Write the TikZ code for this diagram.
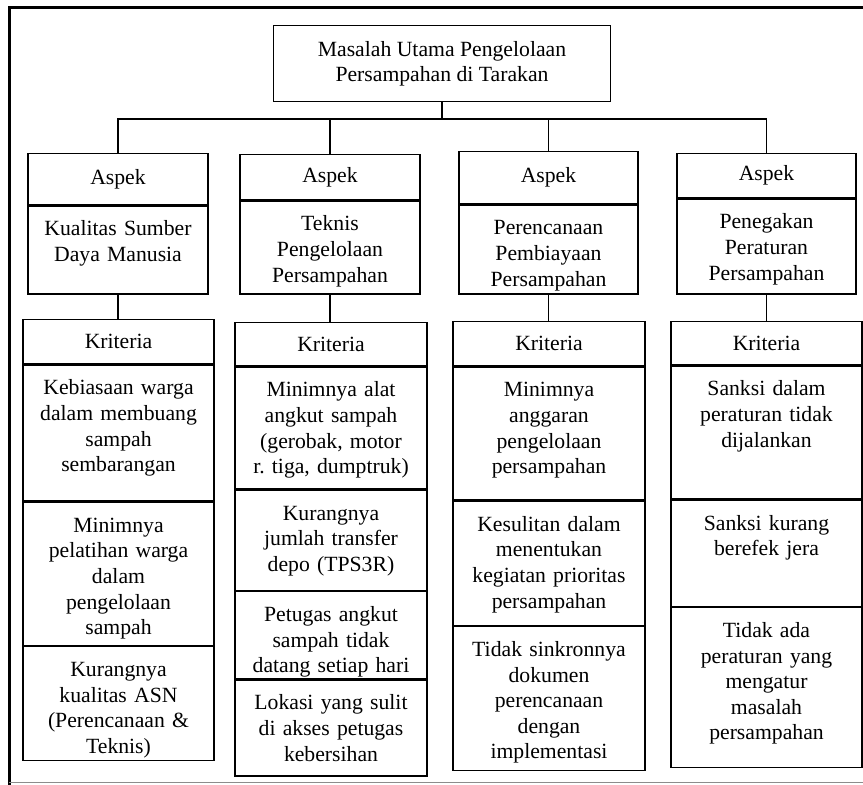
\documentclass[tikz,border=0pt]{standalone}
\usepackage{fontspec}
\setmainfont{Liberation Serif}
\usetikzlibrary{positioning}
\frenchspacing

\begin{document}
\begin{tikzpicture}[
    x=1pt, y=-1pt,
    line width=1.3pt,
    txt/.style={font=\fontsize{21.7}{25.6}\selectfont, align=center},
    head/.style 2 args={txt, draw, inner sep=0pt, minimum width=#1, minimum height=#2},
    cell/.style 2 args={txt, draw, inner xsep=0pt, inner ysep=0pt, text width=#1,
                        text height=30pt, text depth={#2-30pt}}
]
    \useasboundingbox (0,0) rectangle (863,785);
    \draw[line width=3pt] (863,7) -- (9,7) -- (9,785);
    \draw[line width=1pt, black!45] (9,782) -- (863,782);

    \node[head={337pt}{76pt}, anchor=north] (top) at (442,25) {Masalah Utama Pengelolaan\\Persampahan di Tarakan};

    \node[head={180pt}{51pt}, anchor=north] (a1) at (118,153) {Aspek};
    \node[cell={180pt}{88pt}, below=0pt of a1] (s1) {Kualitas Sumber\\Daya Manusia};
    \node[head={180pt}{45pt}, anchor=north] (a2) at (330,154) {Aspek};
    \node[cell={180pt}{93pt}, below=0pt of a2] (s2) {Teknis\\Pengelolaan\\Persampahan};
    \node[head={179pt}{52pt}, anchor=north] (a3) at (548.5,151) {Aspek};
    \node[cell={179pt}{89pt}, below=0pt of a3] (s3) {Perencanaan\\Pembiayaan\\Persampahan};
    \node[head={179pt}{44pt}, anchor=north] (a4) at (766.5,153) {Aspek};
    \node[cell={179pt}{95pt}, below=0pt of a4] (s4) {Penegakan\\Peraturan\\Persampahan};

    \node[head={191pt}{44pt}, anchor=north] (k1) at (118.5,319) {Kriteria};
    \node[cell={191pt}{136pt}, below=0pt of k1] (k1a) {Kebiasaan warga\\dalam membuang\\sampah\\sembarangan};
    \node[cell={191pt}{143pt}, below=0pt of k1a] (k1b) {Minimnya\\pelatihan warga\\dalam\\pengelolaan\\sampah};
    \node[cell={191pt}{114pt}, below=0pt of k1b] (k1c) {Kurangnya\\kualitas ASN\\(Perencanaan \&\\Teknis)};

    \node[head={192pt}{43pt}, anchor=north] (k2) at (331,322) {Kriteria};
    \node[cell={192pt}{122pt}, below=0pt of k2] (k2a) {Minimnya alat\\angkut sampah\\(gerobak, motor\\r. tiga, dumptruk)};
    \node[cell={192pt}{100pt}, below=0pt of k2a] (k2b) {Kurangnya\\jumlah transfer\\depo (TPS3R)};
    \node[cell={192pt}{87pt}, below=0pt of k2b] (k2c) {Petugas angkut\\sampah tidak\\datang setiap hari};
    \node[cell={192pt}{96pt}, below=0pt of k2c] (k2d) {Lokasi yang sulit\\di akses petugas\\kebersihan};

    \node[head={192pt}{44pt}, anchor=north] (k3) at (549,321) {Kriteria};
    \node[cell={192pt}{133pt}, below=0pt of k3] (k3a) {Minimnya\\anggaran\\pengelolaan\\persampahan};
    \node[cell={192pt}{124pt}, below=0pt of k3a] (k3b) {Kesulitan dalam\\menentukan\\kegiatan prioritas\\persampahan};
    \node[cell={192pt}{144pt}, below=0pt of k3b] (k3c) {Tidak sinkronnya\\dokumen\\perencanaan\\dengan\\implementasi};

    \node[head={191pt}{43pt}, anchor=north] (k4) at (766.5,321) {Kriteria};
    \node[cell={191pt}{133pt}, below=0pt of k4] (k4a) {Sanksi dalam\\peraturan tidak\\dijalankan};
    \node[cell={191pt}{106pt}, below=0pt of k4a] (k4b) {Sanksi kurang\\berefek jera};
    \node[cell={191pt}{160pt}, below=0pt of k4b] (k4c) {Tidak ada\\peraturan yang\\mengatur\\masalah\\persampahan};

    \coordinate (bus) at (442,119);
    \draw (top.south) -- (bus);
    \draw (a1.north) -- (a1.north |- bus) -- (a4.north |- bus) -- (a4.north);
    \draw (a2.north) -- (a2.north |- bus);
    \draw (a3.north) -- (a3.north |- bus);

    \draw (s1.south) -- (s1.south |- k1.north);
    \draw (s2.south) -- (s2.south |- k2.north);
    \draw (s3.south) -- (s3.south |- k3.north);
    \draw (s4.south) -- (s4.south |- k4.north);
\end{tikzpicture}
\end{document}
